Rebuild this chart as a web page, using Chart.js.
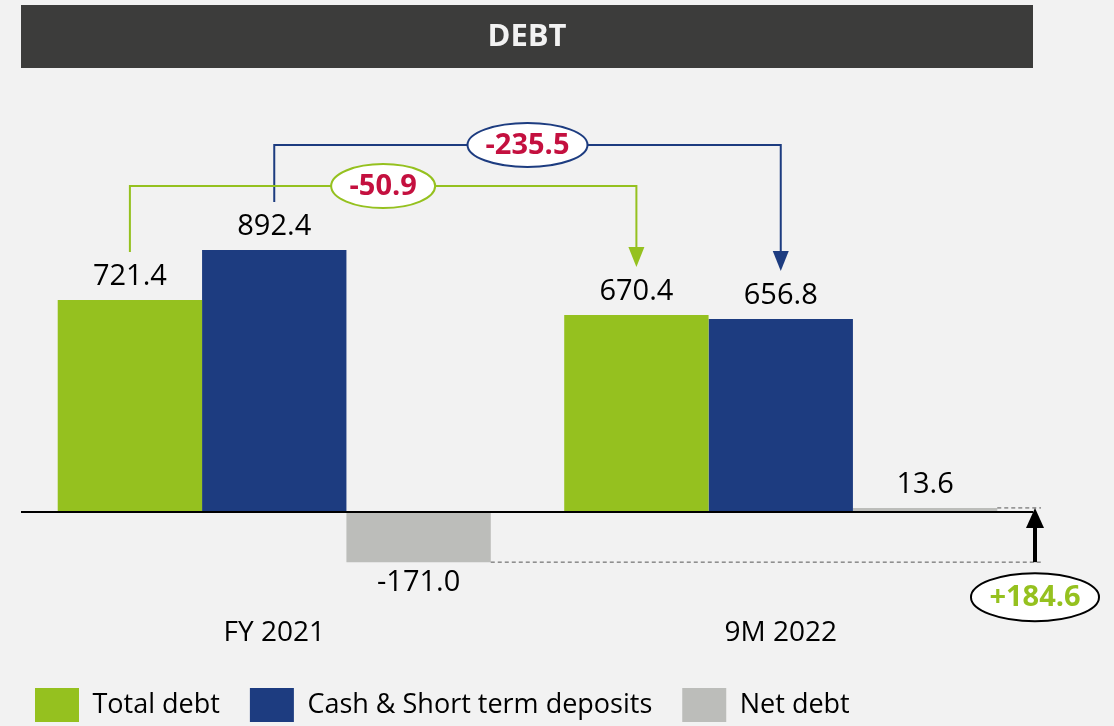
<!DOCTYPE html>
<html>
<head>
<meta charset="utf-8">
<script src="https://cdn.jsdelivr.net/npm/chart.js@4.4.0/dist/chart.umd.min.js"></script>
<style>
  html, body { margin: 0; padding: 0; background: #f2f2f2; }
  #wrap { width: 1114px; height: 726px; }
</style>
</head>
<body>
<div id="wrap"><canvas id="debtChart"></canvas></div>
<script>
let periods = ['FY 2021', '9M 2022'];
let totalDebt = [721.4, 670.4];
let cashDeposits = [892.4, 656.8];
let netDebt = [-171.0, 13.6];
let changeLabels = ['-50.9', '-235.5', '+184.6'];

const GREEN = '#95c11f';
const BLUE = '#1d3c80';
const GREY = '#bcbdba';
const RED = '#c4103f';
const FONT = '"Open Sans", "Noto Sans", sans-serif';

function ellipseLabel(ctx, cx, cy, rx, ry, border, text, color) {
    ctx.save();
    ctx.beginPath();
    ctx.ellipse(cx, cy, rx, ry, 0, 0, Math.PI * 2);
    ctx.fillStyle = '#ffffff';
    ctx.fill();
    ctx.lineWidth = 2;
    ctx.strokeStyle = border;
    ctx.stroke();
    ctx.fillStyle = color;
    ctx.font = 'bold 29px ' + FONT;
    ctx.textAlign = 'center';
    ctx.textBaseline = 'middle';
    ctx.fillText(text, cx, cy + 1);
    ctx.restore();
}

function arrowDown(ctx, x, tipY, color) {
    ctx.beginPath();
    ctx.moveTo(x - 8, tipY - 20);
    ctx.lineTo(x + 8, tipY - 20);
    ctx.lineTo(x, tipY);
    ctx.closePath();
    ctx.fillStyle = color;
    ctx.fill();
}

// bracket from one bar to another, over the top, with a label in the middle
function bracket(ctx, yScale, fromBar, toBar, level, color, text, rx) {
    const gap = 48;
    const top = yScale.getPixelForValue(level);
    ctx.save();
    ctx.strokeStyle = color;
    ctx.lineWidth = 2;
    ctx.beginPath();
    ctx.moveTo(fromBar.x, fromBar.y - gap);
    ctx.lineTo(fromBar.x, top);
    ctx.lineTo(toBar.x, top);
    ctx.lineTo(toBar.x, toBar.y - gap - 18);
    ctx.stroke();
    arrowDown(ctx, toBar.x, toBar.y - gap, color);
    ctx.restore();
    ellipseLabel(ctx, (fromBar.x + toBar.x) / 2, top, rx, 22, color, text, RED);
}

const debtDecor = {
    id: 'debtDecor',
    afterLayout(chart) {
        // legend sits further left than the plot area
        chart.legend.left -= 16;
        chart.legend.right -= 16;
    },
    beforeDraw(chart) {
        const ctx = chart.ctx;
        ctx.save();
        ctx.fillStyle = '#f2f2f2';
        ctx.fillRect(0, 0, chart.width, chart.height);
        ctx.fillStyle = '#3c3c3b';
        ctx.fillRect(21, 5, 1012, 63);
        ctx.fillStyle = '#f2f2f2';
        ctx.font = 'bold 31px ' + FONT;
        ctx.textAlign = 'center';
        ctx.textBaseline = 'middle';
        ctx.fillText('DEBT', 527, 37);
        ctx.restore();
    },
    afterDatasetsDraw(chart) {
        const ctx = chart.ctx;
        const y = chart.scales.y;
        const area = chart.chartArea;
        const zero = y.getPixelForValue(0);
        const green = chart.getDatasetMeta(0).data;
        const blue = chart.getDatasetMeta(1).data;
        const grey = chart.getDatasetMeta(2).data;

        // zero line
        ctx.save();
        ctx.strokeStyle = '#000';
        ctx.lineWidth = 2;
        ctx.beginPath();
        ctx.moveTo(area.left, zero);
        ctx.lineTo(area.right - 1, zero);
        ctx.stroke();

        // value labels
        ctx.fillStyle = '#000';
        ctx.font = '29px ' + FONT;
        ctx.textAlign = 'center';
        ctx.textBaseline = 'middle';
        chart.data.datasets.forEach((ds, i) => {
            chart.getDatasetMeta(i).data.forEach((bar, j) => {
                const v = ds.data[j];
                const ly = v >= 0 ? bar.y - 23 : bar.y + 21;
                ctx.fillText(v.toFixed(1), bar.x, ly);
            });
        });

        // dashed guides for net debt change
        const low = grey[0];
        const high = grey[1];
        const arrowX = area.right + 1;
        ctx.strokeStyle = '#555';
        ctx.lineWidth = 1;
        ctx.setLineDash([4, 3]);
        ctx.beginPath();
        ctx.moveTo(low.x + low.width / 2, low.y);
        ctx.lineTo(arrowX + 8, low.y);
        ctx.moveTo(high.x + high.width / 2, high.y);
        ctx.lineTo(arrowX + 6, high.y);
        ctx.stroke();
        ctx.setLineDash([]);

        // up arrow
        ctx.strokeStyle = '#000';
        ctx.lineWidth = 4;
        ctx.beginPath();
        ctx.moveTo(arrowX, low.y);
        ctx.lineTo(arrowX, high.y + 18);
        ctx.stroke();
        ctx.beginPath();
        ctx.moveTo(arrowX - 9, high.y + 20);
        ctx.lineTo(arrowX + 9, high.y + 20);
        ctx.lineTo(arrowX, high.y);
        ctx.closePath();
        ctx.fillStyle = '#000';
        ctx.fill();
        ctx.restore();

        // brackets
        bracket(ctx, y, blue[0], blue[1], 1250, BLUE, changeLabels[1], 60);
        bracket(ctx, y, green[0], green[1], 1110, GREEN, changeLabels[0], 52);

        ellipseLabel(ctx, arrowX, low.y + 35, 64, 24, '#000', changeLabels[2], GREEN);
    }
};

const ctx = document.getElementById('debtChart').getContext('2d');
const debtChart = new Chart(ctx, {
    type: 'bar',
    data: {
        labels: periods,
        datasets: [
            { label: 'Total debt', data: totalDebt, backgroundColor: GREEN },
            { label: 'Cash & Short term deposits', data: cashDeposits, backgroundColor: BLUE },
            { label: 'Net debt', data: netDebt, backgroundColor: GREY },
        ]
    },
    options: {
        responsive: true,
        maintainAspectRatio: false,
        animation: false,
        barPercentage: 1,
        categoryPercentage: 0.855,
        layout: { padding: { left: 21, right: 80, top: 100, bottom: -6 } },
        plugins: {
            tooltip: { enabled: false },
            legend: {
                position: 'bottom',
                align: 'start',
                labels: {
                    color: '#000',
                    boxWidth: 44,
                    boxHeight: 34,
                    padding: 30,
                    font: { family: FONT, size: 27 }
                }
            }
        },
        scales: {
            x: {
                grid: { display: false },
                border: { display: false },
                ticks: { color: '#000', padding: 11, font: { family: FONT, size: 28, lineHeight: 1 } }
            },
            y: {
                display: false,
                min: -300,
                max: 1403
            }
        }
    },
    plugins: [debtDecor]
});
</script>
</body>
</html>
